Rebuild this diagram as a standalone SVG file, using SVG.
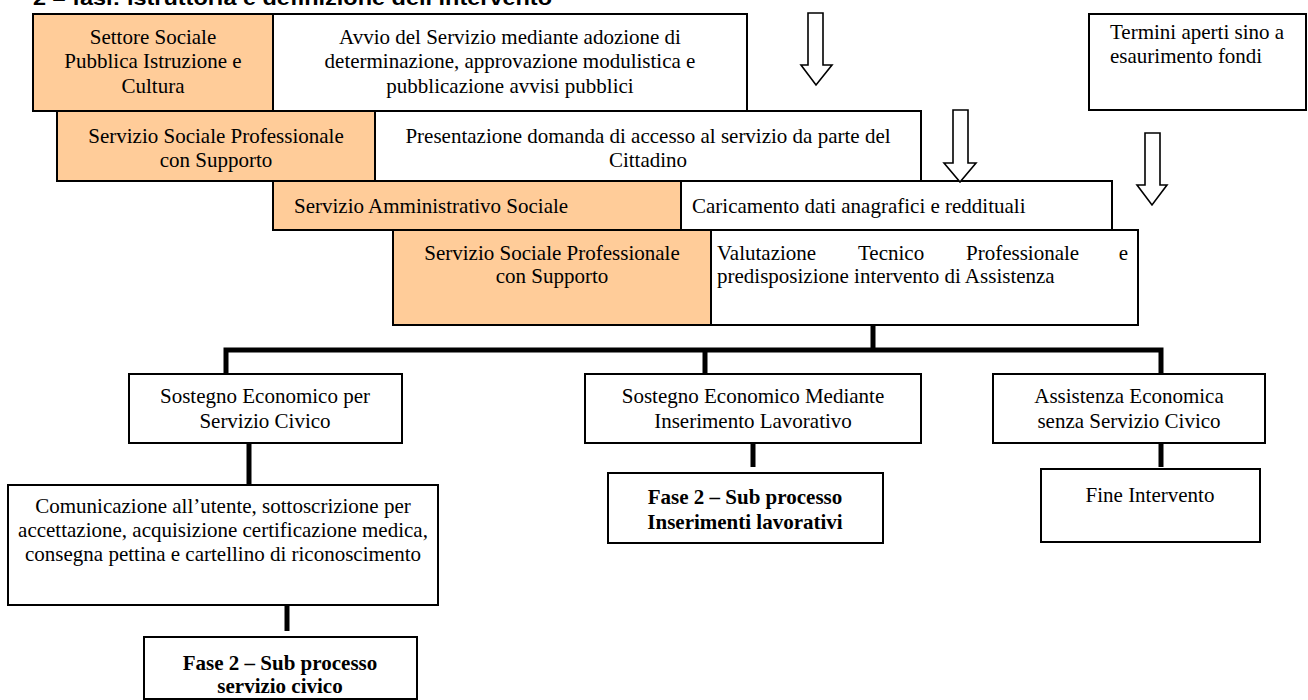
<svg xmlns="http://www.w3.org/2000/svg" width="1308" height="700" viewBox="0 0 1308 700">
<style>
.bg{fill:#ffffff}
.o{fill:#FFCC99;stroke:#000;stroke-width:2}
.w{fill:#ffffff;stroke:#000;stroke-width:2}
.t{font-family:"Liberation Serif","Times New Roman",serif;font-size:21px;fill:#000}
.c{text-anchor:middle}
.b{font-weight:bold}
.arr{fill:#fff;stroke:#000;stroke-width:1.6;stroke-linejoin:miter}
.ln{stroke:#000;stroke-width:5;fill:none;stroke-linecap:butt}
.title{font-family:"Liberation Sans",Arial,sans-serif;font-size:20px;font-weight:bold;fill:#000}
</style>
<rect class="bg" x="0" y="0" width="1308" height="700"/>
<text class="title" x="33" y="4.5" textLength="519" lengthAdjust="spacingAndGlyphs">2 – fasi: istruttoria e definizione dell’intervento</text>

<g id="step1">
<rect class="o" x="33" y="14" width="240" height="97"/>
<rect class="w" x="273" y="14" width="474" height="97"/>
<text class="t c" x="153" y="44">Settore Sociale</text>
<text class="t c" x="153" y="68">Pubblica Istruzione e</text>
<text class="t c" x="153" y="93">Cultura</text>
<text class="t c" x="510" y="44">Avvio del Servizio mediante adozione di</text>
<text class="t c" x="510" y="68">determinazione, approvazione modulistica e</text>
<text class="t c" x="510" y="93">pubblicazione avvisi pubblici</text>
</g>

<g id="termini">
<rect class="w" x="1089" y="14" width="217" height="96"/>
<text class="t" x="1110" y="39">Termini aperti sino a</text>
<text class="t" x="1110" y="63">esaurimento fondi</text>
</g>

<g id="step2">
<rect class="o" x="57" y="111" width="318" height="70"/>
<rect class="w" x="375" y="111" width="546" height="70"/>
<text class="t c" x="216" y="143">Servizio Sociale Professionale</text>
<text class="t c" x="216" y="167">con Supporto</text>
<text class="t c" x="648" y="143">Presentazione domanda di accesso al servizio da parte del</text>
<text class="t c" x="648" y="167">Cittadino</text>
</g>

<g id="step3">
<rect class="o" x="273" y="181" width="408" height="49"/>
<rect class="w" x="681" y="181" width="431" height="49"/>
<text class="t" x="294" y="213">Servizio Amministrativo Sociale</text>
<text class="t" x="692" y="213">Caricamento dati anagrafici e reddituali</text>
</g>

<g id="step4">
<rect class="o" x="393" y="230" width="318" height="95"/>
<rect class="w" x="711" y="230" width="427" height="95"/>
<text class="t c" x="552" y="260">Servizio Sociale Professionale</text>
<text class="t c" x="552" y="283">con Supporto</text>
<text class="t" x="717" y="260">Valutazione</text>
<text class="t" x="858" y="260">Tecnico</text>
<text class="t" x="966" y="260">Professionale</text>
<text class="t" x="1128" y="260" text-anchor="end">e</text>
<text class="t" x="717" y="283">predisposizione intervento di Assistenza</text>
</g>

<g id="arrows">
<path class="arr" d="M808,13 H823 V65 H832 L816,85 L801,65 H808 Z"/>
<path class="arr" d="M953,110 H968 V163 H976 L960,182 L944,163 H953 Z"/>
<path class="arr" d="M1145,133 H1160 V185 H1167 L1152,205 L1137,185 H1145 Z"/>
</g>

<g id="connectors">
<path class="ln" d="M873,325 V350"/>
<path class="ln" d="M226,374 V350 H1161 V374"/>
<path class="ln" d="M705,350 V374"/>
<path class="ln" d="M249,443 V485"/>
<path class="ln" d="M753,443 V467"/>
<path class="ln" d="M1161,443 V467"/>
<path class="ln" d="M287,605 V631"/>
</g>

<g id="sostegno-civico">
<rect class="w" x="129" y="374" width="273" height="69"/>
<text class="t c" x="265" y="403">Sostegno Economico per</text>
<text class="t c" x="265" y="428">Servizio Civico</text>
</g>

<g id="sostegno-lavorativo">
<rect class="w" x="585" y="374" width="336" height="69"/>
<text class="t c" x="753" y="403">Sostegno Economico Mediante</text>
<text class="t c" x="753" y="428">Inserimento Lavorativo</text>
</g>

<g id="assistenza">
<rect class="w" x="993" y="374" width="272" height="69"/>
<text class="t c" x="1129" y="403">Assistenza Economica</text>
<text class="t c" x="1129" y="428">senza Servizio Civico</text>
</g>

<g id="comunicazione">
<rect class="w" x="8" y="485" width="430" height="120"/>
<text class="t c" x="223" y="513">Comunicazione all’utente, sottoscrizione per</text>
<text class="t c" x="223" y="537">accettazione, acquisizione certificazione medica,</text>
<text class="t c" x="223" y="561">consegna pettina e cartellino di riconoscimento</text>
</g>

<g id="fase2-civico">
<rect class="w" x="144" y="637" width="273" height="62"/>
<text class="t c b" x="280" y="670">Fase 2 – Sub processo</text>
<text class="t c b" x="280" y="693">servizio civico</text>
</g>

<g id="fase2-lavorativi">
<rect class="w" x="608" y="473" width="275" height="70"/>
<text class="t c b" x="745" y="504">Fase 2 – Sub processo</text>
<text class="t c b" x="745" y="529">Inserimenti lavorativi</text>
</g>

<g id="fine">
<rect class="w" x="1041" y="469" width="219" height="73"/>
<text class="t c" x="1150" y="502">Fine Intervento</text>
</g>
</svg>
